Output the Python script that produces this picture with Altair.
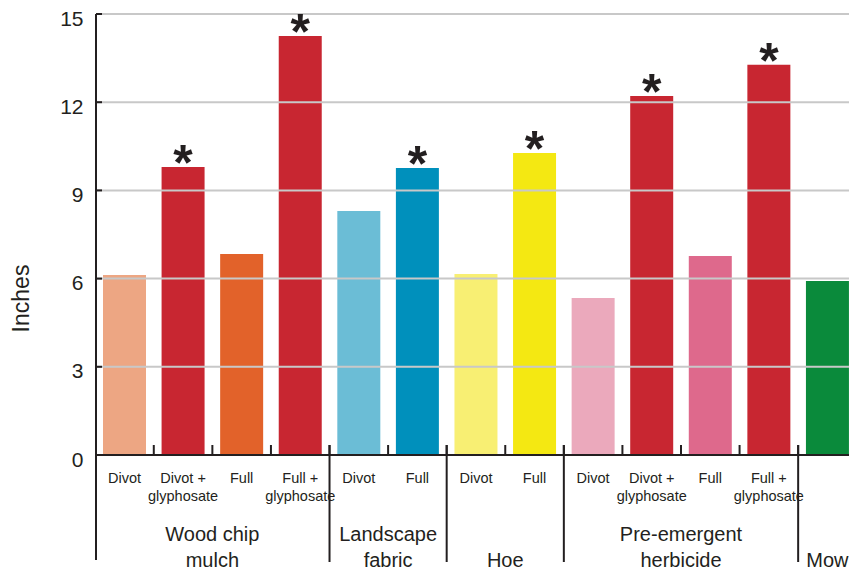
import altair as alt
import pandas as pd

# ---- data ----
groups = ["Wood chip mulch"] * 4 + ["Landscape fabric"] * 2 + ["Hoe"] * 2 + ["Pre-emergent herbicide"] * 4 + ["Mow"]
treatments = ["Divot", "Divot +\nglyphosate", "Full", "Full +\nglyphosate",
              "Divot", "Full",
              "Divot", "Full",
              "Divot", "Divot +\nglyphosate", "Full", "Full +\nglyphosate",
              ""]
inches = [6.12, 9.80, 6.84, 14.25, 8.30, 9.76, 6.16, 10.27, 5.34, 12.21, 6.77, 13.27, 5.92]
significant = [False, True, False, True, False, True, False, True, False, True, False, True, False]
colors = ["#eda683", "#c82631", "#e2622a", "#c82631",
          "#6bbdd6", "#0090bc",
          "#f8ef73", "#f4e812",
          "#eba9bc", "#c82631", "#de698c", "#c82631",
          "#0a8a3b"]

group_names = ["Wood chip mulch", "Landscape fabric", "Hoe", "Pre-emergent herbicide", "Mow"]
group_line1 = ["Wood chip", "Landscape", "", "Pre-emergent", ""]
group_line2 = ["mulch", "fabric", "Hoe", "herbicide", "Mow"]
y_ticks = [0, 3, 6, 9, 12, 15]

FONT = "Liberation Sans"
INK = "#231f20"
W, H = 753, 441

pos = list(range(len(inches)))
df = pd.DataFrame({"pos": pos, "group": groups, "treatment": treatments,
                   "inches": inches, "sig": significant, "color": colors})

tick_df = pd.DataFrame({"p": [p + 0.5 for p in pos[:-1]]})
sep_df = pd.DataFrame({"p": [p + 0.5 for p in pos[:-1] if groups[p] != groups[p + 1]]})
grp_df = pd.DataFrame({
    "group": group_names,
    "line1": group_line1,
    "line2": group_line2,
    "center": [df.loc[df.group == g, "pos"].mean() for g in group_names],
})
yt_df = pd.DataFrame({"v": y_ticks})
grid_df = pd.DataFrame({"v": [v for v in y_ticks if v > 0]})
one = pd.DataFrame({"a": [0]})

xscale = alt.Scale(domain=[-0.4865, 12.368], nice=False, zero=False, padding=0)
yscale = alt.Scale(domain=[0, 15], nice=False)
yaxis = alt.Axis(values=y_ticks, title="Inches", domain=False, ticks=False, tickSize=0,
                 grid=False, labelFont=FONT, labelFontSize=21, labelColor=INK,
                 labelPadding=13, labelOffset=5, labelFlush=False, labelBaseline="middle",
                 titleFont=FONT, titleFontSize=23, titleFontWeight="normal",
                 titleColor=INK, titleX=-75, titleY=284, titleBaseline="middle",
                 titleAlign="center", titleAngle=270)


def Y(field):
    return alt.Y(field, scale=yscale, axis=yaxis)


def X(field):
    return alt.X(field, scale=xscale, axis=None)


bars = alt.Chart(df).mark_bar(size=43).encode(
    x=X("pos:Q"), y=Y("inches:Q"),
    color=alt.Color("color:N", scale=None),
)

grid = alt.Chart(grid_df).mark_rule(color="#c8c8c8", strokeWidth=2).encode(
    y=Y("v:Q"), x=alt.value(0), x2=alt.value(W))

ytick_marks = alt.Chart(yt_df).mark_rule(color=INK, strokeWidth=2).encode(
    y=Y("v:Q"), x=alt.value(0), x2=alt.value(6))

yline = alt.Chart(one).mark_rule(color=INK, strokeWidth=2).encode(
    x=alt.value(0), y=alt.value(0), y2=alt.value(546))

xline = alt.Chart(one).mark_rule(color=INK, strokeWidth=2).encode(
    y=alt.value(H), x=alt.value(0), x2=alt.value(W))

band_ticks = alt.Chart(tick_df).mark_rule(color=INK, strokeWidth=2).encode(
    x=X("p:Q"), y=alt.value(431), y2=alt.value(H))

seps = alt.Chart(sep_df).mark_rule(color=INK, strokeWidth=2).encode(
    x=X("p:Q"), y=alt.value(431), y2=alt.value(548))

stars = alt.Chart(df).transform_filter(alt.datum.sig).mark_text(
    text="*", font=FONT, fontWeight="bold", fontSize=50,
    baseline="alphabetic", dy=13, color=INK).encode(
    x=X("pos:Q"), y=Y("inches:Q"))

sub_labels = alt.Chart(df).mark_text(
    font=FONT, fontSize=14.5, lineBreak="\n", lineHeight=18, baseline="alphabetic",
    align="center", color=INK).encode(
    x=X("pos:Q"), y=alt.value(469), text="treatment:N")

g1 = alt.Chart(grp_df).mark_text(
    font=FONT, fontSize=20, baseline="alphabetic", align="center", color=INK).encode(
    x=X("center:Q"), y=alt.value(527), text="line1:N")

g2 = alt.Chart(grp_df).mark_text(
    font=FONT, fontSize=20, baseline="alphabetic", align="center", color=INK).encode(
    x=X("center:Q"), y=alt.value(553), text="line2:N")

chart = alt.layer(
    bars, grid, ytick_marks, yline, xline, band_ticks, seps, stars, sub_labels, g1, g2
).properties(
    width=W, height=H,
    padding={"left": 96, "top": 14, "right": 0, "bottom": 117},
    autosize=alt.AutoSizeParams(type="none"),
    background="white",
).configure_view(stroke=None)

chart.save("out.html", embed_options={"renderer": "svg", "actions": False})
